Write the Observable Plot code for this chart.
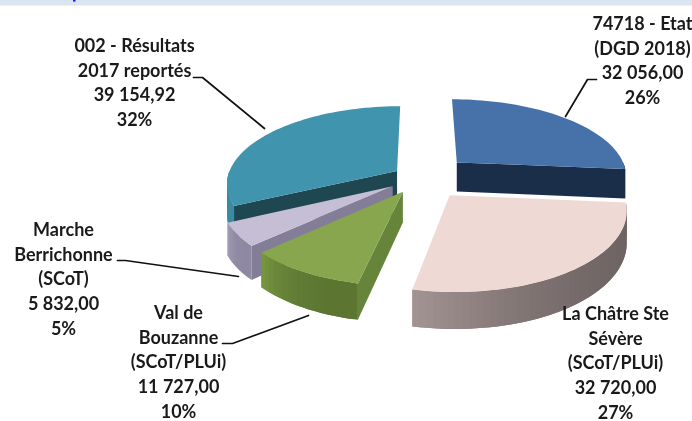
<!DOCTYPE html>
<html>
<head>
<meta charset="utf-8">
<script src="https://cdn.jsdelivr.net/npm/d3@7"></script>
<script src="https://cdn.jsdelivr.net/npm/@observablehq/plot@0.6"></script>
<style>html,body{margin:0;padding:0;background:#fff}svg{display:block;filter:blur(0.35px)}</style>
</head>
<body>
<div id="chart"></div>
<script>
// Data
const categories = ["74718 - Etat\n(DGD 2018)", "La Châtre Ste\nSévère\n(SCoT/PLUi)", "Val de\nBouzanne\n(SCoT/PLUi)", "Marche\nBerrichonne\n(SCoT)", "002 - Résultats\n2017 reportés"];
const values = [32056.00, 32720.00, 11727.00, 5832.00, 39154.92];
const valueLabels = ["32 056,00", "32 720,00", "11 727,00", "5 832,00", "39 154,92"];
const percentLabels = ["26%", "27%", "10%", "5%", "32%"];

// Styles
const topColors = ["#4771a9", "#eed9d5", "#87a64d", "#c5bed5", "#4194ae"];
const sideColors = ["#1b2e49", "#6b6160", "#66843a", "#847d98", "#1e4752"];
const wallStart = ["#1b2e49", "#6e6463", "#5c7632", "#8f88a2", "#3b8aa3"]; // right end of rim
const wallEnd = ["#1b2e49", "#a59694", "#7a9a42", "#a8a1b8", "#3b8aa3"];   // left end of rim

// Layout
const W = 692, H = 421;
const center = {x: 420, y: 177};
const R = 175, K = 79, P = 0.16, DEPTH = 30;
const explode = [0.29, 0.27, 0.20, 0.19, 0.16];
const radius = [0.98, 0.96, 0.95, 0.95, 0.97];
const labelX = [642, 615, 178, 63, 134];
const labelY = [58.5, 361, 360, 277, 80.5];
const leaders = [
  [[596, 79], [587, 79], [565, 116]],
  [[117, 260], [125, 260], [238, 276]],
  [[222, 343], [232, 343], [308, 315]],
  [[193, 77], [202, 77], [264, 128]]
];

// Geometry derived from the values
const arcs = d3.pie().sort(null).startAngle(0).endAngle(2 * Math.PI)(values);
function project(a, rad, i, drop) {
  const mid = (arcs[i].startAngle + arcs[i].endAngle) / 2;
  const u = explode[i] * Math.sin(mid) + rad * radius[i] * Math.sin(a);
  const v = -explode[i] * Math.cos(mid) - rad * radius[i] * Math.cos(a);
  const s = 1 / (1 - P * v);
  return [center.x + R * u * s, center.y + K * v * s + (drop ? DEPTH * s : 0)];
}
function samples(a0, a1, step = Math.PI / 90) {
  const n = Math.max(1, Math.ceil((a1 - a0) / step));
  return d3.range(n + 1).map(j => a0 + (a1 - a0) * j / n);
}
const rows = [];
let pid = 0;
function poly(pts, c) {
  const id = pid++;
  [...pts, pts[0]].forEach(p => rows.push({px: p[0], py: p[1], id, c}));
}
function wedge(i) {
  const {startAngle: a0, endAngle: a1} = arcs[i];
  // radial walls facing the viewer
  for (const [a, visible] of [[a0, Math.sin(a0) < -1e-6], [a1, Math.sin(a1) > 1e-6]]) {
    if (visible) poly([project(a, 0, i), project(a, 1, i), project(a, 1, i, true), project(a, 0, i, true)], sideColors[i]);
  }
  // rim: only the front half of the disc is visible; each slice overlaps the next one to avoid seams
  const lo = Math.max(a0, Math.PI / 2), hi = Math.min(a1, 3 * Math.PI / 2);
  if (hi > lo) {
    const t = samples(lo, hi);
    const col = d3.interpolateRgb(wallStart[i], wallEnd[i]);
    const last = t.length - 1;
    for (let j = last - 1; j >= 0; j--) {
      const seg = t.slice(j, j + 3);
      poly([...seg.map(a => project(a, 1, i)), ...seg.slice().reverse().map(a => project(a, 1, i, true))], col(Math.pow(j / (last - 1 || 1), 2.5)));
    }
  }
  // top
  poly([project(a0, 0, i), ...samples(a0, a1).map(a => project(a, 1, i))], topColors[i]);
}
[0, 4, 3, 2, 1].forEach(wedge);

const labels = categories.map((c, i) => ({x: labelX[i], y: labelY[i], text: `${c}\n${valueLabels[i]}\n${percentLabels[i]}`}));
const leaderRows = leaders.flatMap((l, id) => l.map(p => ({px: p[0], py: p[1], id})));

const plot = Plot.plot({
  width: W, height: H, margin: 0,
  x: {domain: [0, W], range: [0, W], axis: null},
  y: {domain: [0, H], range: [0, H], axis: null},
  color: {type: "identity"},
  style: {background: "#fff"},
  marks: [
    Plot.rect([{x1: 0, x2: W, y1: 0, y2: 5.6}], {x1: "x1", x2: "x2", y1: "y1", y2: "y2", fill: "#dce6f2"}),
    Plot.rect([{x1: 73, x2: 75.5, y1: 0, y2: 1.6}], {x1: "x1", x2: "x2", y1: "y1", y2: "y2", fill: "#1a1aff"}),
    Plot.line(rows, {x: "px", y: "py", z: "id", fill: "c", stroke: "none", curve: "linear"}),
    Plot.line(leaderRows, {x: "px", y: "py", z: "id", stroke: "#111", strokeWidth: 1.7, curve: "linear"}),
    Plot.text(labels, {x: "x", y: "y", text: "text", fontFamily: "Lato", fontWeight: 700, fontSize: 18, lineHeight: 1.367, fill: "#1a1a1a", textAnchor: "middle", lineAnchor: "middle"})
  ]
});
document.getElementById("chart").appendChild(plot);
</script>
</body>
</html>
